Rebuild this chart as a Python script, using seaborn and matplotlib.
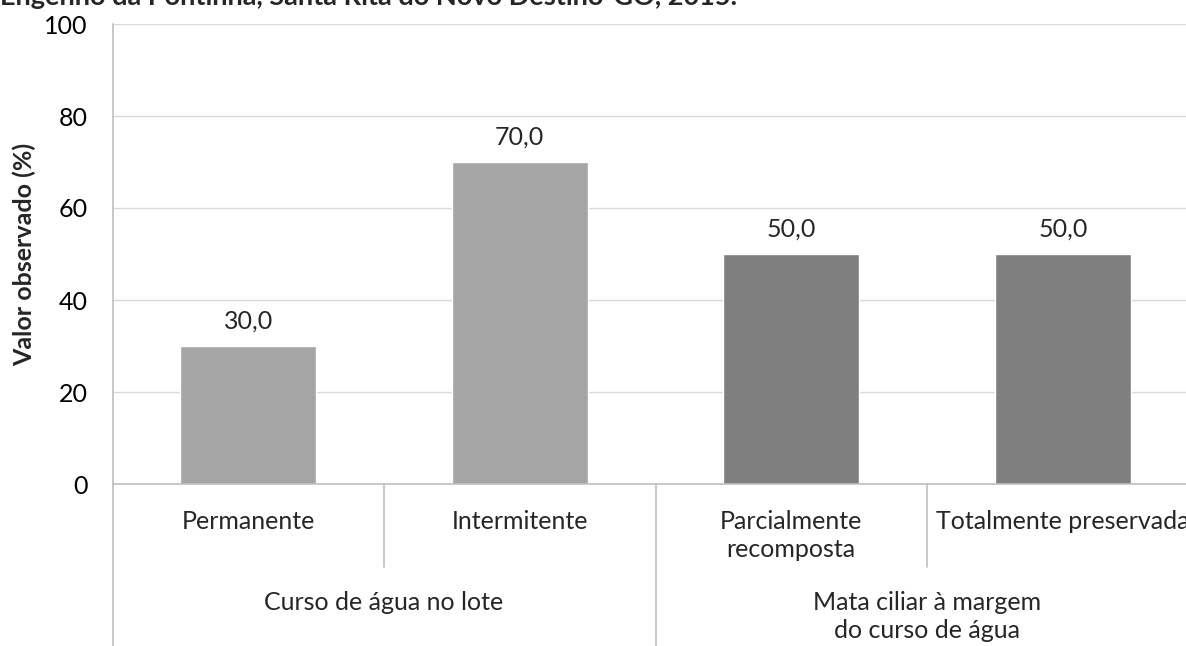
import pandas as pd
import matplotlib.pyplot as plt
import seaborn as sns

# Data
subcategorias = ['Permanente', 'Intermitente', 'Parcialmente\nrecomposta', 'Totalmente preservada']
grupos = ['Curso de água no lote', 'Curso de água no lote',
          'Mata ciliar à margem\ndo curso de água', 'Mata ciliar à margem\ndo curso de água']
valores = [30.0, 70.0, 50.0, 50.0]
yticks = [0, 20, 40, 60, 80, 100]
cores = ['#A5A5A5', '#7F7F7F']

df = pd.DataFrame({'sub': subcategorias, 'grupo': grupos, 'valor': valores})

sns.set_style('white')
plt.rcParams['font.family'] = ['Lato', 'DejaVu Sans']
FS = 18

W, H = 1186, 646
fig = plt.figure(figsize=(W / 100, H / 100), dpi=100)
# plot area runs past the right edge of the picture, as in the reference
left, right, top, bottom = 112.5, 1198.5, 24, 484
ax = fig.add_axes([left / W, 1 - bottom / H, (right - left) / W, (bottom - top) / H])

sns.barplot(data=df, x='sub', y='valor', hue='grupo', palette=cores,
            dodge=False, width=0.5, legend=False, ax=ax, saturation=1)

ax.set_xlim(-0.5, 3.5)
ax.set_ylim(0, 100)
ax.set_yticks(yticks)
ax.yaxis.grid(True, color='#D9D9D9', lw=1)
ax.set_axisbelow(True)
for s in ['top', 'right']:
    ax.spines[s].set_visible(False)
for s in ['left', 'bottom']:
    ax.spines[s].set_color('#BFBFBF')
    ax.spines[s].set_linewidth(1.2)

ax.tick_params(axis='y', length=0, pad=18, labelsize=FS, colors='black')
ax.set_xticks([])
ax.set_xlabel('')
ax.set_ylabel('Valor observado (%)', fontsize=FS, fontweight='bold')
ax.yaxis.set_label_coords(-0.0704, 0.5)

for cont in ax.containers:
    ax.bar_label(cont, fmt=lambda v: f"{v:.1f}".replace('.', ','), padding=10, fontsize=FS)

# two-level category axis drawn below the plot
tr = ax.get_xaxis_transform()
sep_curtos = [0.5, 2.5]
sep_longos = [-0.5, 1.5, 3.5]
for x in sep_curtos:
    ax.plot([x, x], [0, -0.18], transform=tr, color='#BFBFBF', lw=1.2, clip_on=False)
for x in sep_longos:
    ax.plot([x, x], [0, -0.4], transform=tr, color='#BFBFBF', lw=1.2, clip_on=False)

for i, nome in enumerate(subcategorias):
    ax.text(i, -0.0565, nome, transform=tr, ha='center', va='top', fontsize=FS, linespacing=1.28)

for nome, xc in [(grupos[0], 0.5), (grupos[2], 2.5)]:
    ax.text(xc, -0.232, nome, transform=tr, ha='center', va='top', fontsize=FS, linespacing=1.28)

# title of the source figure, mostly cut by the top edge as in the reference
fig.text(0.0, 1 - 5 / H, 'Engenho da Pontinha, Santa Rita do Novo Destino-GO, 2015.',
         ha='left', va='baseline', fontsize=19.5, fontweight='bold')

plt.savefig('out.png', dpi=100)
